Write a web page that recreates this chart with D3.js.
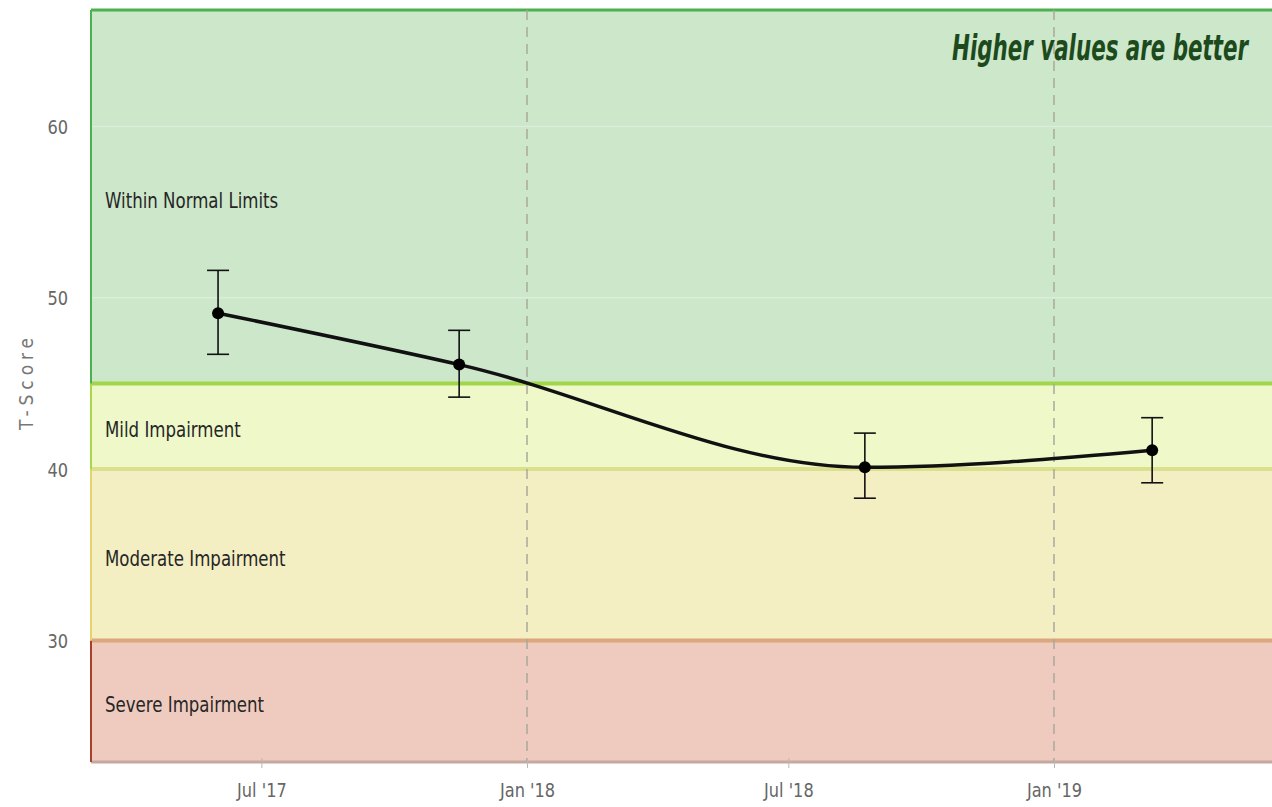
<!DOCTYPE html>
<html>
<head>
<meta charset="utf-8">
<script src="https://cdn.jsdelivr.net/npm/d3@7"></script>
<style>
  html, body { margin: 0; padding: 0; background: #ffffff; }
  svg { display: block; }
  .lbl { font-family: "Liberation Sans Narrow", "DejaVu Sans Condensed", "Arial Narrow", sans-serif; }
</style>
</head>
<body>
<svg id="chart" width="1272" height="807"></svg>
<script>
// ---- data ----
const dates = ["2017-06-01", "2017-11-15", "2018-08-23", "2019-03-10"];
const values = [49.1, 46.1, 40.1, 41.1];
const errLow = [46.7, 44.2, 38.3, 39.2];
const errHigh = [51.6, 48.1, 42.1, 43.0];

const bandNames = ["Severe Impairment", "Moderate Impairment", "Mild Impairment", "Within Normal Limits"];
const bandFrom = [22.9, 30, 40, 45];
const bandTo = [30, 40, 45, 66.8];
const bandFill = ["#efcbbf", "#f4eec3", "#eef8c9", "#cce7c9"];
const bandEdge = ["#a8402a", "#e2d46a", "#a8d84a", "#4caf50"];
const bandTopLine = ["#dca67e", "#dbe08e", "#a2d64a", "#4caf50"];

const yTicks = [30, 40, 50, 60];
const xTickDates = ["2017-07-01", "2018-01-01", "2018-07-01", "2019-01-01"];
const xTickLabels = ["Jul '17", "Jan '18", "Jul '18", "Jan '19"];
const xDomain = ["2017-03-05", "2019-06-01"];
const yDomain = [22.9, 66.8];

// ---- layout ----
const L = 91, T = 10, R = 1272, B = 762;
const parse = d3.timeParse("%Y-%m-%d");
const x = d3.scaleTime().domain(xDomain.map(parse)).range([L, R]);
const y = d3.scaleLinear().domain(yDomain).range([B, T]);
const svg = d3.select("#chart");

// helper: place text and squeeze horizontally (narrow font look)
function squeeze(sel, sx) {
  sel.each(function () {
    const t = d3.select(this);
    const px = +t.attr("x") || 0, py = +t.attr("y") || 0;
    t.attr("transform", `translate(${px},${py}) scale(${sx},1)`).attr("x", 0).attr("y", 0);
  });
}

// bands
const bands = bandNames.map((n, i) => ({ n, from: bandFrom[i], to: bandTo[i], i }));
svg.append("g").selectAll("rect").data(bands).join("rect")
  .attr("x", L).attr("width", R - L)
  .attr("y", d => y(d.to)).attr("height", d => y(d.from) - y(d.to))
  .attr("fill", d => bandFill[d.i]);

// faint grid lines
svg.append("g").selectAll("line").data(yTicks).join("line")
  .attr("x1", L).attr("x2", R).attr("y1", d => y(d)).attr("y2", d => y(d))
  .attr("stroke", "#ffffff").attr("stroke-opacity", 0.3).attr("stroke-width", 1.5);

// band top borders
svg.append("g").selectAll("line").data(bands).join("line")
  .attr("x1", L).attr("x2", R).attr("y1", d => y(d.to)).attr("y2", d => y(d.to))
  .attr("stroke", d => bandTopLine[d.i]).attr("stroke-width", d => d.i === 3 ? 3 : 4);
// bottom border
svg.append("line").attr("x1", L).attr("x2", R).attr("y1", y(yDomain[0])).attr("y2", y(yDomain[0]))
  .attr("stroke", "#c7a8a0").attr("stroke-width", 3);
// left band edges
svg.append("g").selectAll("line").data(bands).join("line")
  .attr("x1", L).attr("x2", L).attr("y1", d => y(d.to)).attr("y2", d => y(d.from))
  .attr("stroke", d => bandEdge[d.i]).attr("stroke-width", 2);

// dashed vertical lines at January ticks
const xt = xTickDates.map((d, i) => ({ d: parse(d), l: xTickLabels[i] }));
svg.append("g").selectAll("line").data(xt.filter(t => t.l.startsWith("Jan"))).join("line")
  .attr("x1", d => x(d.d)).attr("x2", d => x(d.d)).attr("y1", T).attr("y2", B)
  .attr("stroke", "#a9a99a").attr("stroke-width", 1.5).attr("stroke-dasharray", "10,7");

// band labels
svg.append("g").selectAll("text").data(bands).join("text")
  .attr("class", "lbl")
  .attr("x", 105).attr("y", d => y((d.from + d.to) / 2) + 11)
  .attr("font-size", 22).attr("fill", "#262626")
  .text(d => d.n)
  .call(squeeze, 0.84);

// note
svg.append("text").attr("class", "lbl")
  .attr("x", 1248).attr("y", 60).attr("text-anchor", "end")
  .attr("font-size", 36).attr("font-weight", "bold").attr("font-style", "italic")
  .attr("fill", "#1d4a1d").text("Higher values are better")
  .call(squeeze, 0.66);

// y axis (tick groups are already translated to y(d))
const yAxis = d3.axisLeft(y).tickValues(yTicks).tickSize(0).tickPadding(0);
const gy = svg.append("g").call(yAxis);
gy.select(".domain").remove();
gy.selectAll("text").attr("class", "lbl").attr("font-size", 20).attr("fill", "#666")
  .attr("x", 68).attr("y", 7).attr("dy", null)
  .call(squeeze, 0.9);
svg.append("text").attr("class", "lbl")
  .attr("transform", `translate(33,384) rotate(-90)`)
  .attr("text-anchor", "middle").attr("font-size", 19).attr("fill", "#777")
  .attr("textLength", 92).attr("lengthAdjust", "spacing").text("T-Score");

// x axis
const xAxis = d3.axisBottom(x).tickValues(xt.map(t => t.d)).tickFormat((d, i) => xTickLabels[i])
  .tickSize(10).tickPadding(0);
const gx = svg.append("g").attr("transform", `translate(0,${B - 4})`).call(xAxis);
gx.select(".domain").remove();
gx.selectAll("line").attr("stroke", "#b8b8b8");
gx.selectAll("text").attr("class", "lbl").attr("font-size", 20).attr("fill", "#666")
  .attr("dy", null).attr("y", 39).call(squeeze, 0.9);

// series
const pts = dates.map((d, i) => ({ d: parse(d), v: values[i], lo: errLow[i], hi: errHigh[i] }));
svg.append("path").datum(pts)
  .attr("d", d3.line().x(d => x(d.d)).y(d => y(d.v)).curve(d3.curveMonotoneX))
  .attr("fill", "none").attr("stroke", "#111").attr("stroke-width", 3.5);

const eb = svg.append("g").attr("stroke", "#111").attr("stroke-width", 1.6);
eb.selectAll("line.v").data(pts).join("line").attr("class", "v")
  .attr("x1", d => x(d.d)).attr("x2", d => x(d.d)).attr("y1", d => y(d.hi)).attr("y2", d => y(d.lo));
eb.selectAll("line.h").data(pts).join("line").attr("class", "h")
  .attr("x1", d => x(d.d) - 11).attr("x2", d => x(d.d) + 11).attr("y1", d => y(d.hi)).attr("y2", d => y(d.hi));
eb.selectAll("line.l").data(pts).join("line").attr("class", "l")
  .attr("x1", d => x(d.d) - 11).attr("x2", d => x(d.d) + 11).attr("y1", d => y(d.lo)).attr("y2", d => y(d.lo));

svg.append("g").selectAll("circle").data(pts).join("circle")
  .attr("cx", d => x(d.d)).attr("cy", d => y(d.v)).attr("r", 6).attr("fill", "#000");
</script>
</body>
</html>
